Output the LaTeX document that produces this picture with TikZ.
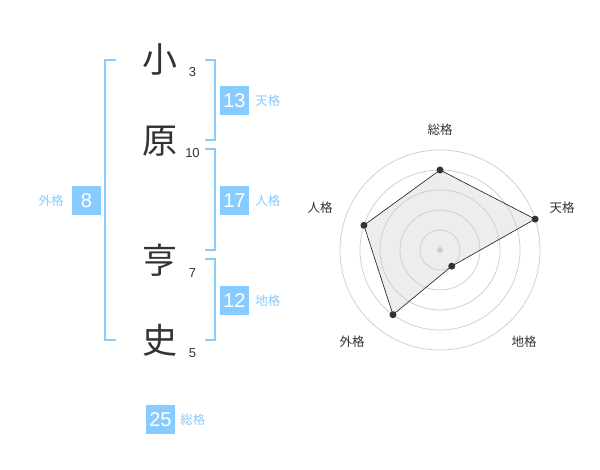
\documentclass[tikz,border=0pt]{standalone}
\usepackage{fontspec}
\setmainfont{Liberation Sans}
\newfontfamily\jpfont{Noto Sans CJK JP}
\usetikzlibrary{calc,positioning}
\definecolor{kakublue}{HTML}{88CCFF}
\definecolor{inkgray}{HTML}{333333}
\tikzset{
	namechar/.style={font=\jpfont\fontsize{35}{35}\selectfont, text=inkgray, inner sep=0},
	strokenum/.style={font=\fontsize{13}{13}\selectfont, text=inkgray, inner sep=0},
	kakubox/.style={fill=kakublue, text=white, minimum size=29pt, inner sep=0, font=\fontsize{20}{20}\selectfont},
	kakuname/.style={font=\jpfont\fontsize{12.5}{12.5}\selectfont, text=kakublue, inner sep=0},
	radarname/.style={font=\jpfont\fontsize{12.5}{12.5}\selectfont, text=inkgray, inner sep=0},
	bracket/.style={draw=kakublue, line width=2pt},
	ring/.style={draw=black!20, line width=0.7pt},
	radardot/.style={circle, fill=inkgray, minimum size=7pt, inner sep=0}
}

\begin{document}
\begin{tikzpicture}[x=1pt,y=-1pt]
			%%%%% START %%%%%
			\useasboundingbox[fill=white] (0,0) rectangle (600,470);
			
			% name
			\node[namechar] (sho) at (160,59) {小};
			\node[namechar] (hara) at (160,141.5) {原};
			\node[namechar] (kyo) at (160,260) {亨};
			\node[namechar] (shi) at (160,340) {史};
			
			\node[strokenum] (n3) at (192.5,72.5) {3};
			\node[strokenum] (n10) at (192.5,153.5) {10};
			\node[strokenum] (n7) at (192.5,273.5) {7};
			\node[strokenum] (n5) at (192.5,353.5) {5};
			
			% brackets
			\draw[bracket] (116,60) -- (105,60) -- (105,340) -- (116,340);
			\draw[bracket] (205,60) -- (214.5,60) -- (214.5,140) -- (205,140);
			\draw[bracket] (205,149.5) -- (214.5,149.5) -- (214.5,250) -- (205,250);
			\draw[bracket] (205,259.5) -- (214.5,259.5) -- (214.5,340) -- (205,340);
			
			% kaku
			\node[kakubox] (ten) at (234.5,100.5) {13};
			\node[kakuname, right=6pt of ten] (tenlab) {天格};
			\node[kakubox] (jin) at (234.5,200.5) {17};
			\node[kakuname, right=6pt of jin] (jinlab) {人格};
			\node[kakubox] (chi) at (234.5,300.5) {12};
			\node[kakuname, right=6pt of chi] (chilab) {地格};
			\node[kakubox] (gai) at (86.5,200.5) {8};
			\node[kakuname, left=8pt of gai] (gailab) {外格};
			\node[kakubox] (so) at (160.5,419.5) {25};
			\node[kakuname, right=5pt of so] (solab) {総格};
			
			% radar
			\coordinate (c) at (440,250);
			\coordinate (pso) at ($(c)+(90:80pt)$);
			\coordinate (pten) at ($(c)+(18:100pt)$);
			\coordinate (pchi) at ($(c)+(-54:20pt)$);
			\coordinate (pgai) at ($(c)+(-126:80pt)$);
			\coordinate (pjin) at ($(c)+(162:80pt)$);
			
			\fill[black!7] (pso) -- (pten) -- (pchi) -- (pgai) -- (pjin) -- cycle;
			\foreach \r in {20,40,60,80,100}
				\draw[ring] (c) circle (\r pt);
			\draw[draw=black!90, line width=0.6pt] (pso) -- (pten) -- (pchi) -- (pgai) -- (pjin) -- cycle;
			\fill[black!20] (c) circle (3pt);
			\foreach \p in {pso,pten,pchi,pgai,pjin}
				\node[radardot] at (\p) {};
			
			\node[radarname] (rso) at (440,130) {総格};
			\node[radarname] (rten) at (562,208) {天格};
			\node[radarname] (rchi) at (524,342) {地格};
			\node[radarname] (rgai) at (352,342) {外格};
			\node[radarname] (rjin) at (320,208) {人格};
			%%%%% END %%%%%
\end{tikzpicture}
\end{document}
